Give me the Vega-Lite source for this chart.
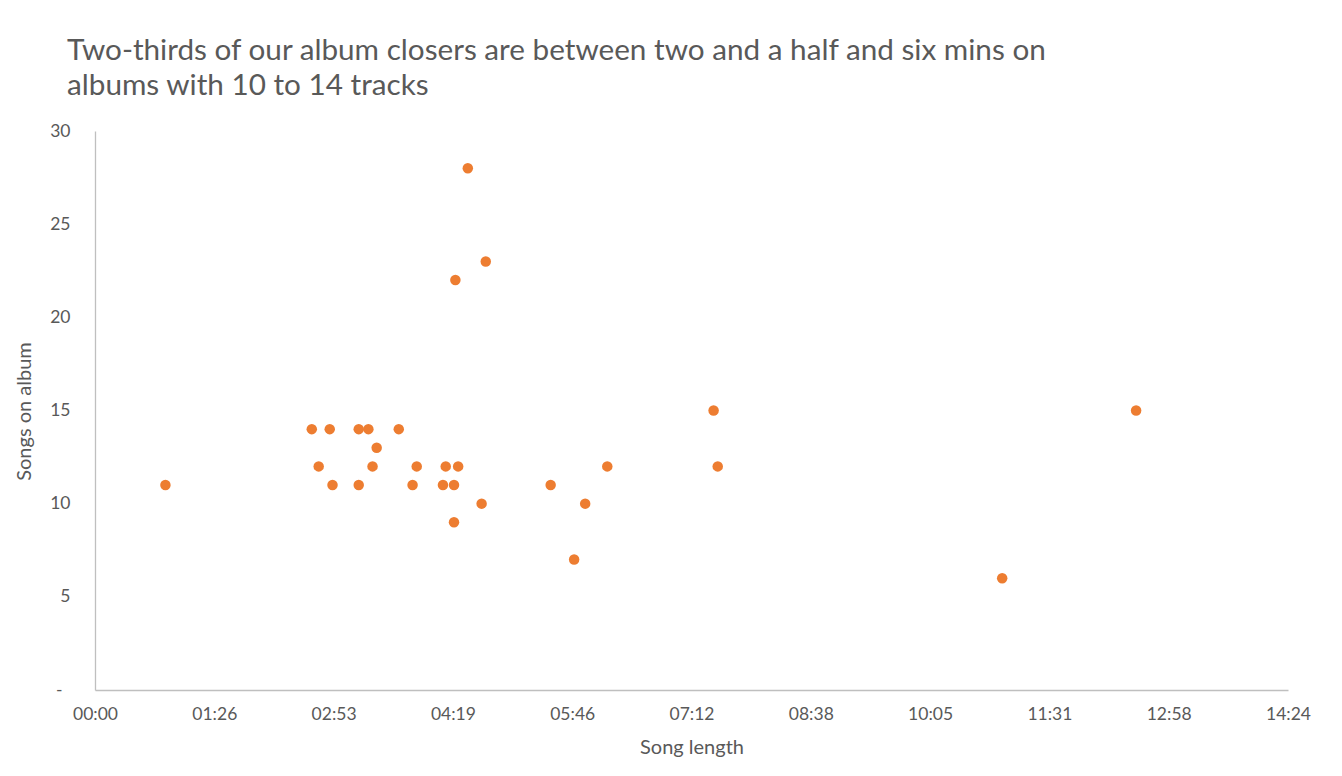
{
  "$schema": "https://vega.github.io/schema/vega-lite/v6.json",
  "width": 1193,
  "height": 559,
  "autosize": {"type": "none"},
  "padding": {"left": 95, "top": 131, "right": 54, "bottom": 86},
  "background": "white",
  "config": {
    "view": {"stroke": null},
    "font": "Lato"
  },
  "title": {
    "text": ["Two-thirds of our album closers are between two and a half and six mins on", "albums with 10 to 14 tracks"],
    "anchor": "start",
    "frame": "group",
    "orient": "top",
    "baseline": "bottom",
    "dx": -28,
    "offset": -9,
    "fontSize": 29.7,
    "lineHeight": 35,
    "fontWeight": "normal",
    "color": "#595959",
    "font": "Lato"
  },
  "data": {
    "values": [
      {"length": 51, "songs": 11},
      {"length": 157, "songs": 14},
      {"length": 162, "songs": 12},
      {"length": 170, "songs": 14},
      {"length": 172, "songs": 11},
      {"length": 191, "songs": 14},
      {"length": 191, "songs": 11},
      {"length": 198, "songs": 14},
      {"length": 204, "songs": 13},
      {"length": 201, "songs": 12},
      {"length": 220, "songs": 14},
      {"length": 230, "songs": 11},
      {"length": 233, "songs": 12},
      {"length": 252, "songs": 11},
      {"length": 254, "songs": 12},
      {"length": 260, "songs": 11},
      {"length": 260, "songs": 9},
      {"length": 263, "songs": 12},
      {"length": 261, "songs": 22},
      {"length": 270, "songs": 28},
      {"length": 283, "songs": 23},
      {"length": 280, "songs": 10},
      {"length": 330, "songs": 11},
      {"length": 347, "songs": 7},
      {"length": 355, "songs": 10},
      {"length": 371, "songs": 12},
      {"length": 448, "songs": 15},
      {"length": 451, "songs": 12},
      {"length": 657, "songs": 6},
      {"length": 754, "songs": 15}
    ]
  },
  "mark": {"type": "circle", "color": "#ED7D31", "opacity": 1, "size": 110},
  "encoding": {
    "x": {
      "field": "length",
      "type": "quantitative",
      "scale": {"domain": [0, 864], "nice": false, "zero": true},
      "axis": {
        "title": "Song length",
        "values": [0, 86.4, 172.8, 259.2, 345.6, 432, 518.4, 604.8, 691.2, 777.6, 864],
        "labelExpr": "format(floor(round(datum.value)/60), '02d') + ':' + format(round(datum.value) % 60, '02d')",
        "labelFlush": false,
        "labelOverlap": false,
        "grid": false,
        "ticks": false,
        "domainColor": "#BFBFBF",
        "domainWidth": 1.3,
        "labelFontSize": 17.5,
        "labelColor": "#595959",
        "labelPadding": 15,
        "labelFont": "Lato",
        "titleFont": "Lato",
        "titleFontSize": 20,
        "titleFontWeight": "normal",
        "titleColor": "#595959",
        "titleBaseline": "middle",
        "titleY": 57
      }
    },
    "y": {
      "field": "songs",
      "type": "quantitative",
      "scale": {"domain": [0, 30], "nice": false},
      "axis": {
        "title": "Songs on album",
        "values": [0, 5, 10, 15, 20, 25, 30],
        "labelExpr": "datum.value == 0 ? '-' : datum.label",
        "labelFlush": false,
        "labelOverlap": false,
        "grid": false,
        "ticks": false,
        "domainColor": "#BFBFBF",
        "domainWidth": 1.3,
        "labelFontSize": 17.5,
        "labelColor": "#595959",
        "labelPadding": {"condition": {"test": "datum.value == 0", "value": 33}, "value": 25},
        "labelFont": "Lato",
        "titleFont": "Lato",
        "titleFontSize": 20,
        "titleFontWeight": "normal",
        "titleColor": "#595959",
        "titleAngle": -90,
        "titleBaseline": "middle",
        "titleAlign": "center",
        "titleX": -71,
        "titleY": 280
      }
    }
  }
}
